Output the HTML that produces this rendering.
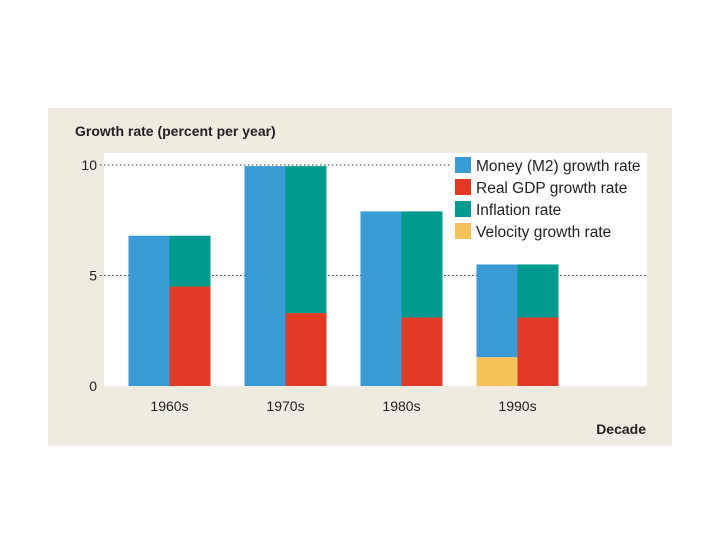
<!DOCTYPE html>
<html><head><meta charset="utf-8"><style>
body{margin:0;width:720px;height:540px;background:#fff;overflow:hidden}
svg{font-family:"Liberation Sans",sans-serif}
</style></head><body>
<svg width="720" height="540">
<rect x="48" y="108" width="624" height="338" fill="#efebe1"/>
<rect x="104" y="153" width="543" height="233" fill="#fff"/>
<text x="75" y="136" font-size="14" font-weight="bold" fill="#222">Growth rate (percent per year)</text>
<text x="646" y="434" font-size="14" font-weight="bold" fill="#222" text-anchor="end">Decade</text>
<g id="grid"></g><g id="bars"></g><g id="legend"></g>
</svg>
<script>
const categories=["1960s","1970s","1980s","1990s"];
const money=[6.8,9.95,7.9,5.5];
const velocity=[0,0,0,1.3];
const gdp=[4.5,3.3,3.1,3.1];
const inflation=[2.3,6.65,4.8,2.4];
const yTicks=[0,5,10];
const legendLabels=["Money (M2) growth rate","Real GDP growth rate","Inflation rate","Velocity growth rate"];
const colors=["#3a9ad6","#e03a24","#009a8e","#f5c35a"];
const NS="http://www.w3.org/2000/svg";
function y(v){return 386-v*22.1;}
function xc(i){return 169.5+i*116;}
function mk(tag,attrs,parent){const e=document.createElementNS(NS,tag);for(const k in attrs)e.setAttribute(k,attrs[k]);parent.appendChild(e);return e;}
const grid=document.getElementById('grid'),bars=document.getElementById('bars'),leg=document.getElementById('legend');
yTicks.forEach(t=>{
 if(t>0){const l=mk('line',{x1:100,x2:647,y1:y(t),y2:y(t),stroke:'#333','stroke-width':1,'stroke-dasharray':'1.5,2.5'},grid);
 
 }
 const tx=mk('text',{x:97,y:y(t)+5,'font-size':14,'text-anchor':'end',fill:'#222'},grid);tx.textContent=t;
 
 
});
categories.forEach((c,i)=>{
 const cx=xc(i),w=41;
 const b1=mk('rect',{x:cx-w,y:y(money[i]),width:w,height:y(velocity[i])-y(money[i]),fill:colors[0]},bars);
 
 
 if(velocity[i]>0){const bv=mk('rect',{x:cx-w,y:y(velocity[i]),width:w,height:y(0)-y(velocity[i]),fill:colors[3]},bars);
 
 }
 const b2=mk('rect',{x:cx,y:y(gdp[i]),width:w,height:y(0)-y(gdp[i]),fill:colors[1]},bars);
 
 
 const b3=mk('rect',{x:cx,y:y(gdp[i]+inflation[i]),width:w,height:y(gdp[i])-y(gdp[i]+inflation[i]),fill:colors[2]},bars);
 
 
 const t=mk('text',{x:cx,y:411,'font-size':14,'text-anchor':'middle',fill:'#222'},bars);t.textContent=c;
 
 
});
const lb=mk('rect',{x:450,y:155,width:197,height:90,fill:'#fff'},leg);


legendLabels.forEach((l,i)=>{
 const yy=157+i*22;
 const s=mk('rect',{x:455,y:yy,width:16,height:16,fill:colors[i]},leg);
 
 
 const t=mk('text',{x:476,y:yy+14,'font-size':15.5,fill:'#222'},leg);t.textContent=l;
 
 
});
</script>
</body></html>
